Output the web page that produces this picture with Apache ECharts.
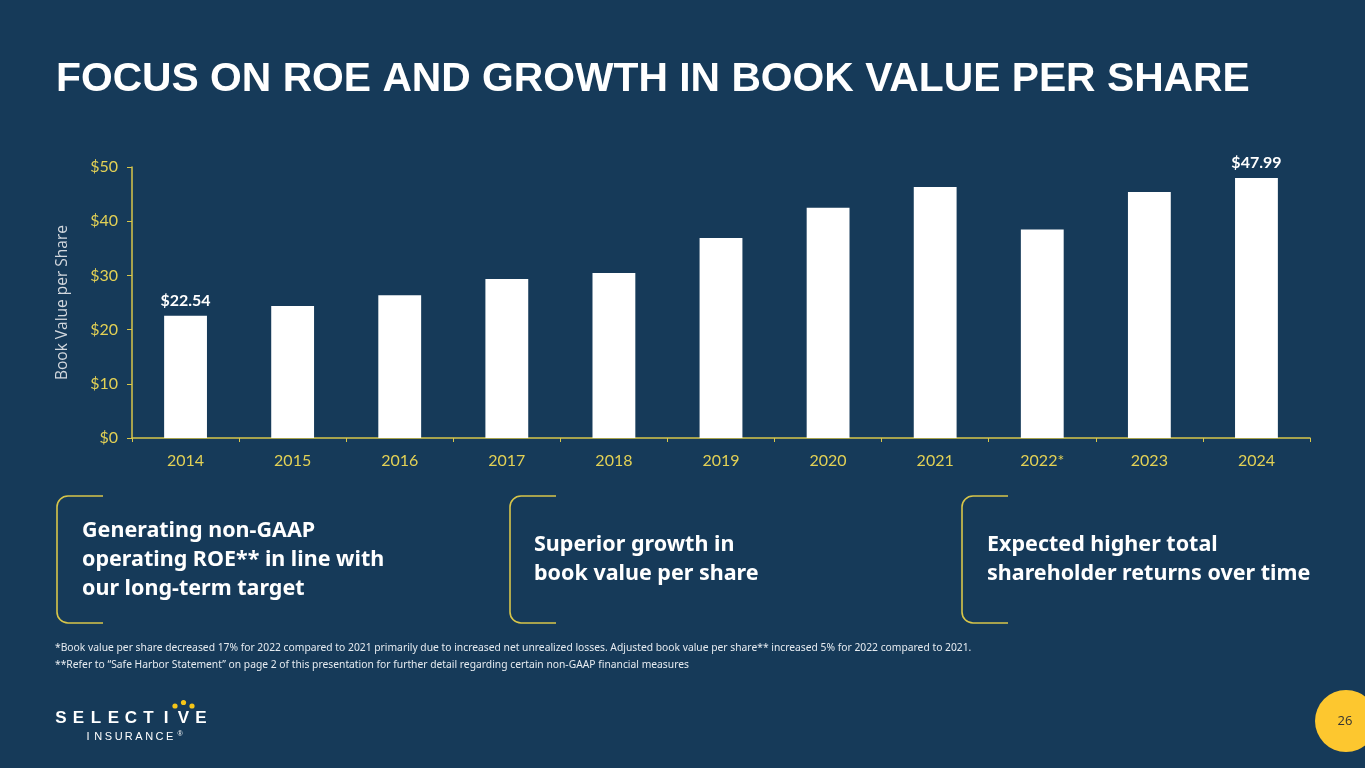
<!DOCTYPE html>
<html>
<head>
<meta charset="utf-8">
<script src="https://cdn.jsdelivr.net/npm/echarts@6/dist/echarts.min.js"></script>
<style>
html,body{margin:0;padding:0;background:#163a59;}
#chart{width:1365px;height:768px;}
</style>
</head>
<body>
<div id="chart"></div>
<script>
const categories = ['2014','2015','2016','2017','2018','2019','2020','2021','2022*','2023','2024'];
const bookValues = [22.54, 24.37, 26.32, 29.33, 30.43, 36.88, 42.46, 46.31, 38.48, 45.40, 47.99];
const yTicks = [0, 10, 20, 30, 40, 50];
const labelledIdx = [0, 10];

const BG = '#163a59';
const YELLOW = '#e3d155';
const AXISY = '#d8c64a';

const chart = echarts.init(document.getElementById('chart'));

const callouts = [
  {x: 57, tx: 82, lines: ['Generating non-GAAP', 'operating ROE** in line with', 'our long-term target']},
  {x: 510, tx: 534, lines: ['Superior growth in', 'book value per share']},
  {x: 962, tx: 987, lines: ['Expected higher total', 'shareholder returns over time']}
];

const graphic = [];
graphic.push({type:'text', x:56, y:59, style:{text:'FOCUS ON ROE AND GROWTH IN BOOK VALUE PER SHARE', fill:'#ffffff', font:'bold 40.8px "Liberation Sans", Arial, sans-serif'}});

callouts.forEach(c => {
  const top = 496, bot = 623, r = 11, w = 46;
  const ls = {stroke:AXISY, lineWidth:1.6, fill:null};
  graphic.push({type:'line', shape:{x1:c.x + r, y1:top, x2:c.x + w, y2:top}, style:ls});
  graphic.push({type:'line', shape:{x1:c.x + r, y1:bot, x2:c.x + w, y2:bot}, style:ls});
  graphic.push({type:'line', shape:{x1:c.x, y1:top + r, x2:c.x, y2:bot - r}, style:ls});
  graphic.push({type:'arc', shape:{cx:c.x + r, cy:top + r, r:r, startAngle:Math.PI, endAngle:Math.PI * 1.5, clockwise:true}, style:ls});
  graphic.push({type:'arc', shape:{cx:c.x + r, cy:bot - r, r:r, startAngle:Math.PI * 0.5, endAngle:Math.PI, clockwise:true}, style:ls});
  const n = c.lines.length;
  const lh = 29;
  const mid = n === 3 ? 560 : 559.5;
  const y0 = mid - (n - 1) * lh / 2;
  c.lines.forEach((ln, i) => {
    graphic.push({type:'text', x:c.tx, y:y0 + i * lh, style:{text:ln, fill:'#ffffff', font:'bold 21.5px "Noto Sans", sans-serif', textVerticalAlign:'middle'}});
  });
});

graphic.push({type:'text', x:55, y:648, style:{text:'*Book value per share decreased 17% for 2022 compared to 2021 primarily due to increased net unrealized losses. Adjusted book value per share** increased 5% for 2022 compared to 2021.', fill:'#e6ebf0', font:'10.3px "Noto Sans", sans-serif', textVerticalAlign:'middle'}});
graphic.push({type:'text', x:55, y:665, style:{text:'**Refer to \u201cSafe Harbor Statement\u201d on page 2 of this presentation for further detail regarding certain non-GAAP financial measures', fill:'#e6ebf0', font:'10.3px "Noto Sans", sans-serif', textVerticalAlign:'middle'}});

// logo
'SELECTIVE'.split('').forEach((ch, i) => {
  graphic.push({type:'text', x:61 + i * 17.5, y:718, style:{text:ch, fill:'#ffffff', font:'bold 17px "Liberation Sans", Arial, sans-serif', textAlign:'center', textVerticalAlign:'middle'}});
});
'INSURANCE'.split('').forEach((ch, i) => {
  graphic.push({type:'text', x:88 + i * 10.2, y:736.5, style:{text:ch, fill:'#ffffff', font:'11px "Liberation Sans", Arial, sans-serif', textAlign:'center', textVerticalAlign:'middle'}});
});
graphic.push({type:'text', x:180, y:734, style:{text:'\u00ae', fill:'#ffffff', font:'7px "Liberation Sans", Arial, sans-serif', textAlign:'center', textVerticalAlign:'middle'}});
[[175,706],[183.5,702.5],[192,706]].forEach(p => {
  graphic.push({type:'circle', shape:{cx:p[0], cy:p[1], r:2.6}, style:{fill:'#f5c518'}});
});

// page number
graphic.push({type:'circle', shape:{cx:1346, cy:721, r:31}, style:{fill:'#fdc72f'}});
graphic.push({type:'text', x:1345, y:721, style:{text:'26', fill:'#333333', font:'13px "Open Sans", sans-serif', textAlign:'center', textVerticalAlign:'middle'}});

chart.setOption({
  backgroundColor: BG,
  animation: false,
  grid: {left:132, right:55, top:167, bottom:330},
  xAxis: {
    type:'category', data:categories,
    axisLine:{lineStyle:{color:AXISY, width:1.5}},
    axisTick:{show:true, length:4, lineStyle:{color:AXISY}},
    axisLabel:{color:YELLOW, fontSize:16, fontFamily:'Lato, sans-serif', margin:15}
  },
  yAxis: {
    type:'value', min:0, max:50, interval:10,
    name:'Book Value per Share', nameLocation:'middle', nameGap:61,
    nameTextStyle:{color:'#d3d8de', fontSize:15.5, fontFamily:'"Open Sans", sans-serif'},
    axisLine:{show:true, lineStyle:{color:AXISY, width:1.5}},
    axisTick:{show:true, length:5, lineStyle:{color:AXISY}},
    splitLine:{show:false},
    axisLabel:{color:YELLOW, fontSize:16, fontFamily:'Lato, sans-serif', margin:14,
      formatter: v => yTicks.indexOf(v) >= 0 ? '$' + v : ''}
  },
  series: [{
    type:'bar', barWidth:'40%',
    itemStyle:{color:'#ffffff'},
    data: bookValues.map((v, i) => ({
      value: v,
      label: {show: labelledIdx.indexOf(i) >= 0, position:'top', distance:7,
        formatter: '$' + v.toFixed(2), color:'#ffffff', fontWeight:'bold', fontSize:16, fontFamily:'Lato, sans-serif'}
    }))
  }],
  graphic: graphic
});
</script>
</body>
</html>
